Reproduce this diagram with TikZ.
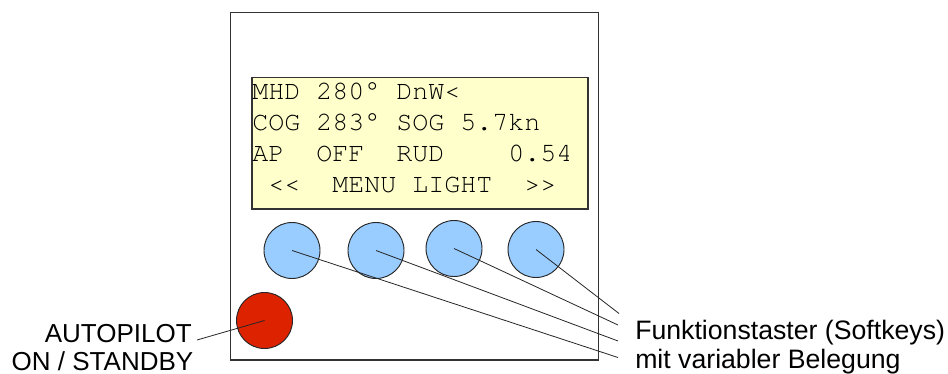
\documentclass[tikz,border=0pt]{standalone}
\usepackage{fontspec}
\setmainfont{Liberation Sans}
\newfontfamily\lcdfont{texgyrecursor-regular.otf}
\usepackage{xcolor}
\definecolor{lcdyellow}{RGB}{255,255,204}
\definecolor{keyblue}{RGB}{153,204,255}
\definecolor{apred}{RGB}{221,34,0}
\tikzset{
	frame/.style={draw=black!80, line width=0.8pt},
	softkey/.style={circle, draw=black!85, line width=0.7pt, fill=keyblue, minimum size=42pt, inner sep=0pt},
	apkey/.style={softkey, fill=apred},
	lcdline/.style={anchor=base west, inner sep=0pt, font=\lcdfont\fontsize{20}{24}\selectfont},
	callout/.style={inner sep=0pt, font=\fontsize{19.5}{23}\selectfont},
	leader/.style={draw=black!85, line width=0.6pt}
}

\begin{document}
\begin{tikzpicture}[x=0.75pt,y=-0.75pt]

	\useasboundingbox (0,0) rectangle (948,374);

	\draw[frame] (230.5,12.5) rectangle (598.5,360);
	\draw[frame, fill=lcdyellow] (252,77.5) rectangle (588,209);

	\node[lcdline] (l1) at (252,99.5) {MHD~280°~DnW<};
	\node[lcdline] (l2) at (252,130.5) {COG~283°~SOG~5.7kn};
	\node[lcdline] (l3) at (252,161.5) {AP~~OFF~~RUD~~~~0.54};
	\node[lcdline] (l4) at (252,192) {~<<~~MENU~LIGHT~~>>};

	\node[softkey] (k1) at (292,250.5) {};
	\node[softkey] (k2) at (376,250.5) {};
	\node[softkey] (k3) at (454,248.5) {};
	\node[softkey] (k4) at (536,249.5) {};
	\node[apkey] (ap) at (264.5,320.5) {};

	\node[callout, anchor=base east] (ap1) at (192,342) {AUTOPILOT};
	\node[callout, anchor=base east] (ap2) at (193.5,370) {ON / STANDBY};
	\node[callout, anchor=base west, font=\fontsize{20}{24}\selectfont] (sk1) at (635,339.5) {Funktionstaster (Softkeys)};
	\node[callout, anchor=base west, font=\fontsize{20}{24}\selectfont] (sk2) at (635,368.5) {mit variabler Belegung};

	\coordinate (apend) at (197,340);
	\coordinate (e4) at (619,313.5);
	\coordinate (e3) at (618,325);
	\coordinate (e2) at (618,341);
	\coordinate (e1) at (618,357.5);

	\draw[leader] (ap.center) -- (apend);
	\draw[leader] (k1.center) -- (e1);
	\draw[leader] (k2.center) -- (e2);
	\draw[leader] (k3.center) -- (e3);
	\draw[leader] (k4.center) -- (e4);

\end{tikzpicture}
\end{document}
